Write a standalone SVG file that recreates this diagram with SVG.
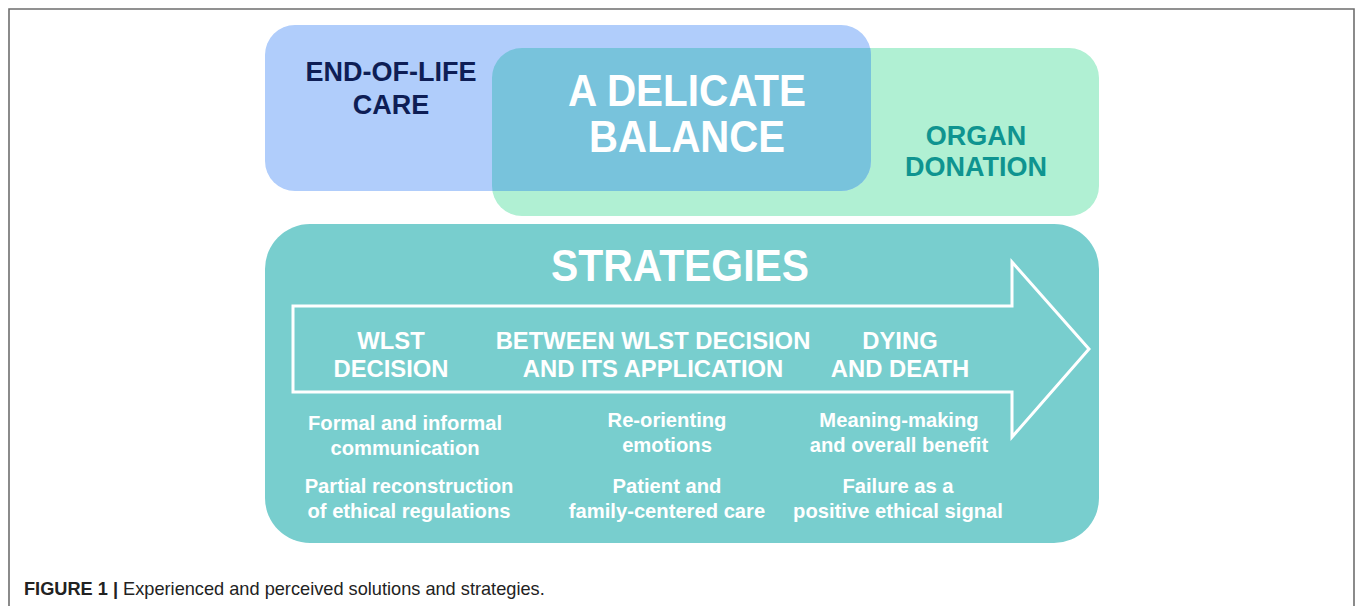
<svg xmlns="http://www.w3.org/2000/svg" width="1355" height="606" viewBox="0 0 1355 606">
<style>
.t{font-family:"Liberation Sans",Arial,sans-serif;font-weight:bold;text-anchor:middle}
.w{fill:#ffffff}
.big{font-size:44px}
.hd{font-size:27px}
.ph{font-size:23.8px}
.sm{font-size:20.2px}
</style>
<defs>
<clipPath id="gclip"><rect x="492" y="48" width="607" height="168" rx="30"/></clipPath>
</defs>
<rect x="0" y="0" width="1355" height="606" fill="#ffffff"/>
<path d="M9 606 V9 H1354 V606" fill="none" stroke="#6e6e6e" stroke-width="1.6"/>
<g id="organ-donation">
<rect x="492" y="48" width="607" height="168" rx="30" fill="#b0f0d3"/>
<text class="t hd" x="976" y="145" fill="#0f9490">ORGAN</text>
<text class="t hd" x="976" y="176" fill="#0f9490">DONATION</text>
</g>
<g id="end-of-life-care">
<rect x="265" y="25" width="606" height="166" rx="30" fill="#b0cdfb"/>
<text class="t hd" x="391" y="81" fill="#0e1e55">END-OF-LIFE</text>
<text class="t hd" x="391" y="114" fill="#0e1e55">CARE</text>
</g>
<g id="delicate-balance">
<rect x="265" y="25" width="606" height="166" rx="30" fill="#78c3dc" clip-path="url(#gclip)"/>
<text class="t w big" x="687" y="106" textLength="238" lengthAdjust="spacingAndGlyphs">A DELICATE</text>
<text class="t w big" x="687" y="152" textLength="196" lengthAdjust="spacingAndGlyphs">BALANCE</text>
</g>
<g id="strategies">
<rect x="265" y="224" width="834" height="319" rx="45" fill="#78cece"/>
<text class="t w big" x="680" y="281" textLength="258" lengthAdjust="spacingAndGlyphs">STRATEGIES</text>
</g>
<g id="connectors">
<path d="M293 306 H1012 V262 L1089 349 L1012 437 V392 H293 Z" fill="none" stroke="#ffffff" stroke-width="3" stroke-linejoin="miter"/>
</g>
<g id="phase-wlst">
<text class="t w ph" x="391" y="349">WLST</text>
<text class="t w ph" x="391" y="377">DECISION</text>
<text class="t w sm" x="405" y="430">Formal and informal</text>
<text class="t w sm" x="405" y="455">communication</text>
<text class="t w sm" x="409" y="493">Partial reconstruction</text>
<text class="t w sm" x="409" y="518">of ethical regulations</text>
</g>
<g id="phase-between">
<text class="t w ph" x="653" y="349">BETWEEN WLST DECISION</text>
<text class="t w ph" x="653" y="377">AND ITS APPLICATION</text>
<text class="t w sm" x="667" y="427">Re-orienting</text>
<text class="t w sm" x="667" y="452">emotions</text>
<text class="t w sm" x="667" y="493">Patient and</text>
<text class="t w sm" x="667" y="518">family-centered care</text>
</g>
<g id="phase-dying">
<text class="t w ph" x="900" y="349">DYING</text>
<text class="t w ph" x="900" y="377">AND DEATH</text>
<text class="t w sm" x="899" y="427">Meaning-making</text>
<text class="t w sm" x="899" y="452">and overall benefit</text>
<text class="t w sm" x="898" y="493">Failure as a</text>
<text class="t w sm" x="898" y="518">positive ethical signal</text>
</g>
<text x="24" y="595" font-family="Liberation Sans, Arial, sans-serif" font-size="18.2" fill="#222222"><tspan font-weight="bold">FIGURE 1 |</tspan> Experienced and perceived solutions and strategies.</text>
</svg>
